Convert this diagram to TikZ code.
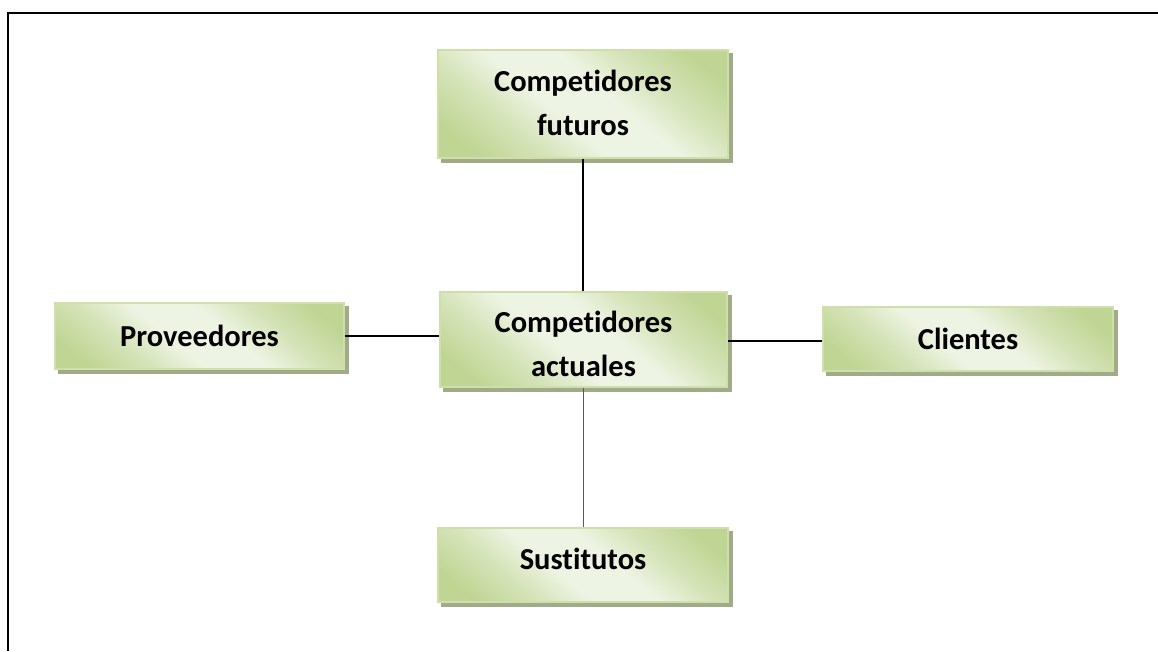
\documentclass[tikz,border=0pt]{standalone}
\usepackage{fontspec}
\setmainfont{Carlito}[RawFeature={-liga}]
\usetikzlibrary{backgrounds}
\definecolor{gdark}{RGB}{192,213,148}
\definecolor{glight}{RGB}{238,244,228}
\definecolor{gmid}{RGB}{214,228,186}
\definecolor{gborder}{RGB}{206,223,172}
\definecolor{gshadow}{RGB}{160,172,136}
\pgfdeclareverticalshading{greenbox}{100bp}{color(0bp)=(gdark); color(22bp)=(gdark); color(34bp)=(gmid); color(44bp)=(glight); color(56bp)=(glight); color(66bp)=(gmid); color(78bp)=(gdark); color(100bp)=(gdark)}
\tikzset{
  box/.style={rectangle, draw=gborder, line width=1.5pt,
    shading=greenbox, shading angle=-40,
    inner sep=0pt},
  txt/.style={align=center, inner sep=0pt, font={\fontsize{30.5}{44}\selectfont\bfseries}},
  shadowbox/.style={fill=gshadow},
  link/.style={draw=black, line width=1.3pt},
  linkgray/.style={draw=black!65, line width=1pt},
  frame/.style={draw=black, line width=1.8pt}
}
\begin{document}
\begin{tikzpicture}[x=1pt,y=-1pt]
\useasboundingbox (0,0) rectangle (1158,651);
\coordinate (ftl) at (8,13);
\coordinate (ftr) at (1158,13);
\coordinate (fbl) at (8,651);
\draw[frame] (ftr) -- (ftl) -- (fbl);
\node[box, minimum width=290pt, minimum height=108pt] (fut) at (583,104) {};
\node[box, minimum width=289pt, minimum height=66pt] (prov) at (199.5,336) {};
\node[box, minimum width=287pt, minimum height=95pt] (act) at (583.5,339.5) {};
\node[box, minimum width=290pt, minimum height=64pt] (cli) at (968,339) {};
\node[box, minimum width=290pt, minimum height=74pt] (sus) at (583,565) {};
\node[txt] (futt) at ([yshift=1pt]fut.center) {Competidores\\futuros};
\node[txt] (provt) at (prov.center) {Proveedores};
\node[txt] (actt) at ([yshift=-4pt]act.center) {Competidores\\actuales};
\node[txt] (clit) at (cli.center) {Clientes};
\node[txt] (sust) at ([yshift=6pt]sus.center) {Sustitutos};
\begin{scope}[on background layer]
  \foreach \n in {fut,prov,act,cli,sus}
    \fill[shadowbox] ([shift={(4,4)}]\n.north west) rectangle ([shift={(4,4)}]\n.south east);
\end{scope}
\draw[link] (fut.south) -- (fut.south |- act.north);
\draw[linkgray] (act.south) -- (act.south |- sus.north);
\draw[link] (prov.east) -- (prov.east -| act.west);
\draw[link] ([yshift=-1.5pt]act.east) -- ([yshift=-1.5pt]act.east -| cli.west);
\end{tikzpicture}
\end{document}
